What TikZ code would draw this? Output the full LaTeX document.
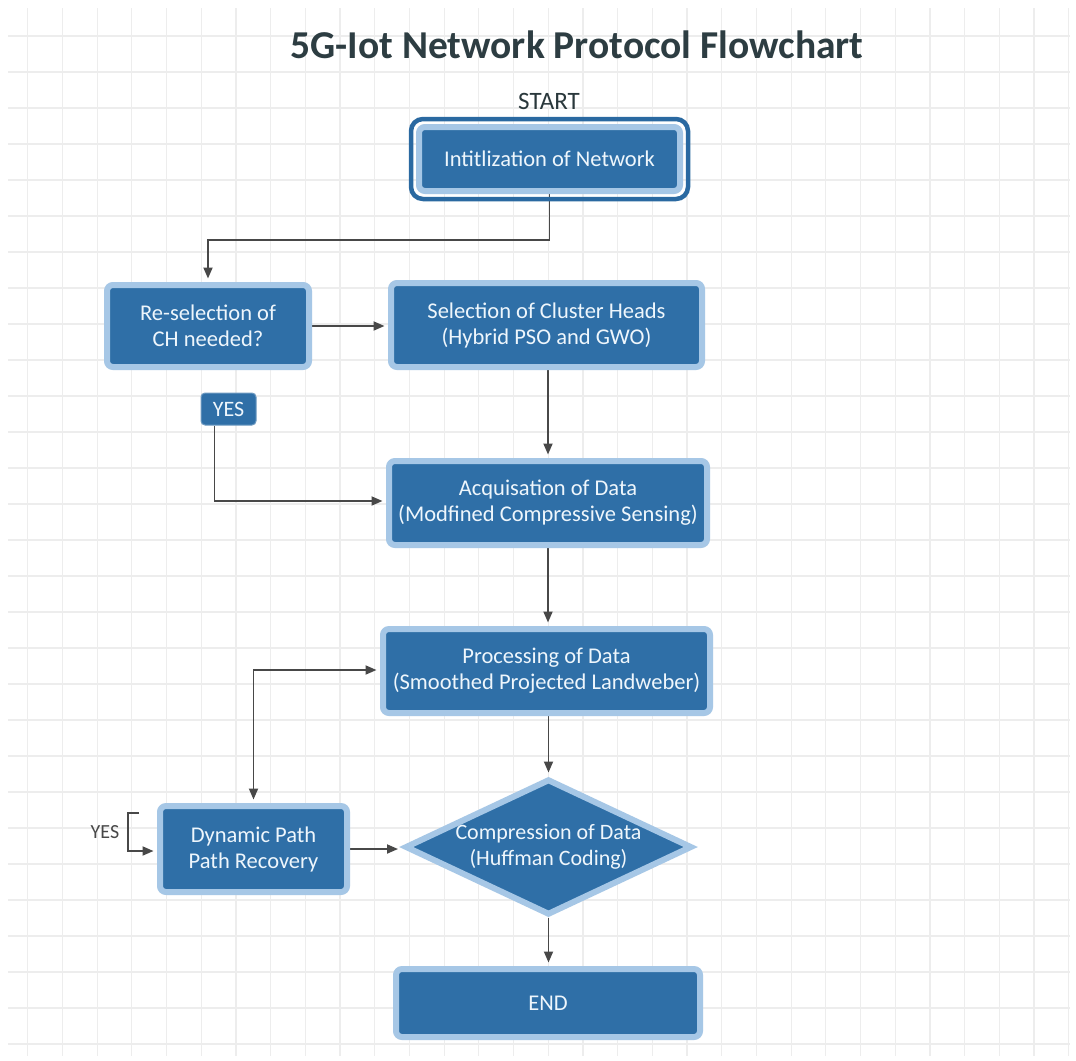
\documentclass[tikz,border=0pt]{standalone}
\usepackage{fontspec}
\setmainfont{Carlito}
\usetikzlibrary{arrows.meta,shapes.geometric,backgrounds}
\definecolor{boxblue}{HTML}{2F6FA7}
\definecolor{boxlight}{HTML}{A6C7E6}
\definecolor{boxdark}{HTML}{2A69A1}
\definecolor{boxtext}{HTML}{EEF6FC}
\definecolor{arrowc}{HTML}{484848}
\definecolor{gridc}{HTML}{EDEDED}
\definecolor{titlec}{HTML}{2D3D42}
\tikzset{
  flowbox/.style={rectangle, rounded corners=6pt, fill=boxblue, draw=boxlight, line width=6pt,
    text=boxtext, align=center, inner sep=0pt, font=\fontsize{22.5}{26}\selectfont},
  flowdia/.style={diamond, fill=boxblue, draw=boxlight, line width=6pt, text=boxtext,
    align=center, inner sep=0pt, shape aspect=2.1, font=\fontsize{22}{26}\selectfont},
  yestag/.style={rectangle, rounded corners=4pt, fill=boxblue, draw=boxblue!70!white, line width=1pt,
    text=boxtext, inner sep=0pt, minimum width=55pt, minimum height=32pt, font=\fontsize{22}{24}\selectfont},
  conn/.style={draw=arrowc, line width=1.8pt},
  arr/.style={conn, -{Triangle[length=11pt,width=9pt]}},
  darr/.style={conn, {Triangle[length=11pt,width=9pt]}-{Triangle[length=11pt,width=9pt]}},
}
\begin{document}
\begin{tikzpicture}[x=1pt,y=-1pt]
\useasboundingbox (0,0) rectangle (1076,1060);

% nodes
\node[font=\fontsize{39.5}{44}\selectfont\bfseries, text=titlec] (title) at (577,45) {5G-Iot Network Protocol Flowchart};
\node[font=\fontsize{25}{28}\selectfont, text=titlec!90!black] (start) at (549,101) {START};
\node[flowbox, minimum width=261pt, minimum height=64pt] (init) at (549.5,159) {Intitlization of Network};
\draw[boxdark, line width=4.5pt, rounded corners=12pt]
  ([shift={(-5,-5)}]init.north west) rectangle ([shift={(5,5)}]init.south east);
\node[flowbox, minimum width=202pt, minimum height=82pt] (res) at (208,326) {Re-selection of\\CH needed?};
\node[flowbox, minimum width=311pt, minimum height=84pt] (sel) at (546.5,325) {Selection of Cluster Heads\\(Hybrid PSO and GWO)};
\node[yestag] (yes) at (228.5,409) {YES};
\node[flowbox, minimum width=318pt, minimum height=84pt] (acq) at (548,503) {Acquisation of Data\\(Modfined Compressive Sensing)};
\node[flowbox, minimum width=327pt, minimum height=84pt] (proc) at (546.5,671) {Processing of Data\\(Smoothed Projected Landweber)};
\node[flowbox, minimum width=187pt, minimum height=86pt] (dyn) at (253.5,849) {Dynamic Path\\Path Recovery};
\node[flowdia, minimum width=287pt, minimum height=136pt] (dia) at (548.5,847) {Compression of Data\\(Huffman Coding)};
\node[flowbox, minimum width=304pt, minimum height=68pt] (endn) at (548,1003) {END};
\node[font=\fontsize{20}{24}\selectfont, text=arrowc] (yes2) at (105,832) {YES};
\coordinate (bk) at (139,813);

\begin{scope}[on background layer]
  \fill[white] (0,0) rectangle (1076,1060);
  \foreach \i in {0,...,30} \draw[gridc, line width=1.2pt] (27.7+34.7*\i,8) -- (27.7+34.7*\i,1056);
  \foreach \j in {0,...,28} \draw[gridc, line width=1.2pt] (8,36+36*\j) -- (1070,36+36*\j);
  \draw[arr, shorten >=3.5pt] (init.south) -- ++(0,46) -| (res.north);
  \draw[arr, shorten >=3.5pt] (res.east) -- (res.east -| sel.west);
  \draw[arr, shorten >=3.5pt] (acq.north |- sel.south) -- (acq.north);
  \draw[arr, shorten >=3.5pt] ([xshift=-14pt]yes.south) |- ([yshift=2pt]acq.west);
  \draw[arr, shorten >=3.5pt] (acq.north |- acq.south) -- (proc.north -| acq.north);
  \draw[arr, shorten >=3.5pt] (dia.north |- proc.south) -- (dia.north);
  \draw[darr, shorten >=3.5pt, shorten <=3.5pt] (dyn.north) |- ([yshift=1pt]proc.west);
  \draw[arr, shorten >=3.5pt] (bk) -- ++(-11,0) |- ([yshift=-2pt]dyn.west);
  \draw[arr, shorten >=4pt] (dyn.east) -- (dyn.east -| dia.west);
  \draw[arr, shorten >=3.5pt] (dia.south) -- (endn.north -| dia.south);
\end{scope}
\end{tikzpicture}
\end{document}
